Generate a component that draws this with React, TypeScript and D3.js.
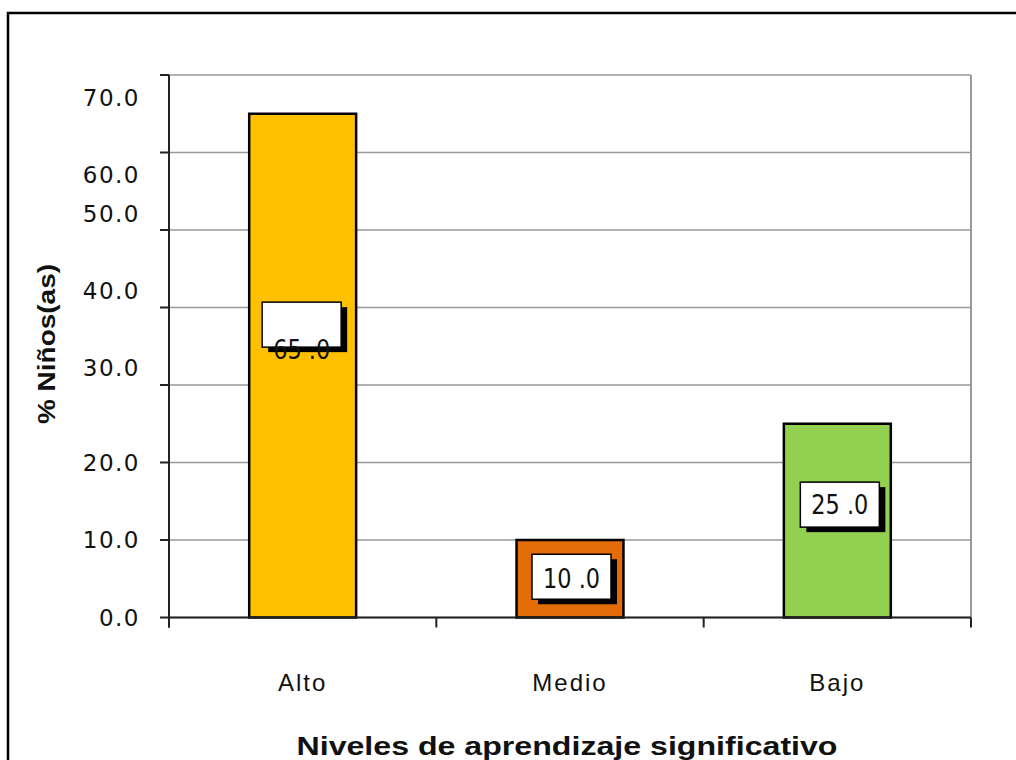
import React from "react";
import * as d3 from "d3";

// Porcentaje de niños(as) por nivel de aprendizaje significativo
const categories: string[] = ["Alto", "Medio", "Bajo"];
const values: number[] = [65.0, 10.0, 25.0];
const barColors: string[] = ["#FFC000", "#E36C09", "#92D050"];
const yTicks: number[] = [0, 10, 20, 30, 40, 50, 60, 70];

// small vertical adjustments of the tick labels (px), indexed like yTicks
const tickLabelNudge: number[] = [0, 0, 0, -17, -17, -16, 22, 23];
// data-label box / text vertical adjustments (px), indexed like categories
const boxNudge: number[] = [-41, -2, -16];
const textNudge: number[] = [25, 2, 0];

const W = 1016;
const H = 760;
const plot = { left: 169, right: 971, top: 75, bottom: 617.5 };

const fmt = d3.format(".1f");
const labelText = (v: number) => fmt(v).replace(".", " .");

export default function App() {
  const x = d3
    .scaleBand<string>()
    .domain(categories)
    .range([plot.left, plot.right])
    .paddingInner(0.6)
    .paddingOuter(0.3);
  const y = d3.scaleLinear().domain([0, 70]).range([plot.bottom, plot.top]);
  const step = x.step();
  const boundaries = d3.range(categories.length + 1).map((i) => plot.left + i * step);

  const boxW = 79;
  const boxH = 45;

  return (
    <svg
      width={W}
      height={H}
      style={{ position: "absolute", left: 0, top: 0, display: "block", background: "#fff" }}
    >
      {/* outer frame (continues past the right and bottom edges) */}
      <path d={`M8,${H + 20} V13 H${W + 20}`} fill="none" stroke="#000" strokeWidth={2.5} />

      {/* gridlines */}
      {yTicks.map((t) => (
        <line
          key={"g" + t}
          x1={plot.left}
          x2={plot.right}
          y1={y(t)}
          y2={y(t)}
          stroke="#999"
          strokeWidth={1.6}
        />
      ))}
      <line x1={plot.right} x2={plot.right} y1={plot.top} y2={plot.bottom} stroke="#999" strokeWidth={2} />

      {/* bars */}
      {categories.map((c, i) => (
        <rect
          key={"b" + c}
          x={x(c)}
          y={y(values[i])}
          width={x.bandwidth()}
          height={y(0) - y(values[i])}
          fill={barColors[i]}
          stroke="#000"
          strokeWidth={2.5}
        />
      ))}

      {/* axes */}
      <line x1={plot.left} x2={plot.left} y1={plot.top} y2={plot.bottom + 10} stroke="#222" strokeWidth={2} />
      <line x1={plot.left} x2={plot.right} y1={plot.bottom} y2={plot.bottom} stroke="#222" strokeWidth={2} />
      {yTicks.map((t) => (
        <line key={"yt" + t} x1={plot.left - 9} x2={plot.left} y1={y(t)} y2={y(t)} stroke="#222" strokeWidth={2} />
      ))}
      {boundaries.map((bx, i) => (
        <line key={"xt" + i} x1={bx} x2={bx} y1={plot.bottom} y2={plot.bottom + 10} stroke="#222" strokeWidth={2} />
      ))}

      {/* y tick labels */}
      {yTicks.map((t, i) => (
        <text
          key={"yl" + t}
          x={140}
          y={y(t) + tickLabelNudge[i]}
          dy="0.36em"
          textAnchor="end"
          fontFamily="DejaVu Sans, sans-serif"
          fontSize={23}
          letterSpacing={1.5}
          fill="#111"
        >
          {fmt(t)}
        </text>
      ))}

      {/* category labels */}
      {categories.map((c) => (
        <text
          key={"xl" + c}
          x={(x(c) as number) + x.bandwidth() / 2}
          y={691}
          textAnchor="middle"
          fontFamily="Liberation Sans, Arial, sans-serif"
          fontSize={24}
          fill="#111"
          letterSpacing={2}
        >
          {c}
        </text>
      ))}

      {/* data labels */}
      {categories.map((c, i) => {
        const cx = (x(c) as number) + x.bandwidth() / 2 + (i === 1 ? 1.5 : i === 2 ? 2.5 : -1);
        const cy = y(values[i] / 2) + boxNudge[i];
        return (
          <g key={"dl" + c}>
            <rect x={cx - boxW / 2 + 6} y={cy - boxH / 2 + 5} width={boxW} height={boxH} fill="#000" />
            <rect
              x={cx - boxW / 2}
              y={cy - boxH / 2}
              width={boxW}
              height={boxH}
              fill="#fff"
              stroke="#000"
              strokeWidth={1.5}
            />
            <text
              x={cx}
              y={cy + textNudge[i]}
              dy="0.36em"
              textAnchor="middle"
              fontFamily="DejaVu Sans, sans-serif"
              fontSize={26}
              textLength={57}
              lengthAdjust="spacingAndGlyphs"
              fill="#111"
            >
              {labelText(values[i])}
            </text>
          </g>
        );
      })}

      {/* axis titles */}
      <text
        transform="translate(55,344) rotate(-90)"
        textAnchor="middle"
        fontFamily="Liberation Sans, Arial, sans-serif"
        fontWeight="bold"
        fontSize={24}
        textLength={160}
        lengthAdjust="spacingAndGlyphs"
        fill="#111"
      >
        % Niños(as)
      </text>
      <text
        x={567}
        y={755}
        textAnchor="middle"
        fontFamily="Liberation Sans, Arial, sans-serif"
        fontWeight="bold"
        fontSize={26}
        textLength={541}
        lengthAdjust="spacingAndGlyphs"
        fill="#111"
      >
        Niveles de aprendizaje significativo
      </text>
    </svg>
  );
}
